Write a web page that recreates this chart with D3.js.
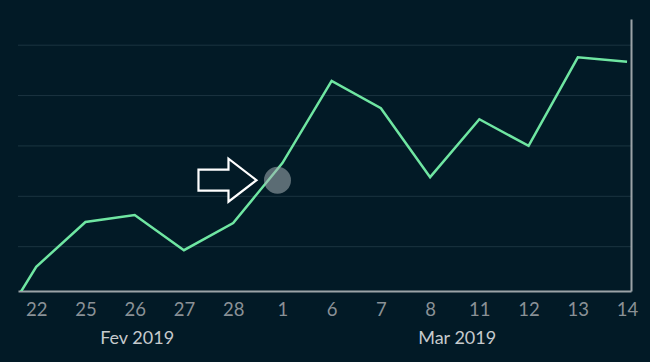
<!DOCTYPE html>
<html>
<head>
<meta charset="utf-8">
<script src="https://cdn.jsdelivr.net/npm/d3@7"></script>
<style>
  body { margin: 0; background: #021a26; }
  svg { display: block; font-family: Lato, "Open Sans", sans-serif; }
</style>
</head>
<body>
<div id="chart"></div>
<script>
// days on the axis; the first one sits outside the plot and gets clipped
var days = ["21", "22", "25", "26", "27", "28", "1", "6", "7", "8", "11", "12", "13", "14"];
var values = [-9.9, 6.0, 14.9, 16.3, 9.3, 14.7, 26.6, 42.9, 37.5, 23.8, 35.3, 30.0, 47.6, 46.7];
var gridValues = [10, 20, 30, 40, 50];
var monthLabels = ["Fev 2019", "Mar 2019"];
var monthAt = [3.05, 9.55];
// highlight marker (between 28 and 1)
var markerAt = 5.9;
var markerValue = 23.2;

var width = 650, height = 362;
var margin = {top: 19, right: 19, bottom: 71, left: 18};

var x = d3.scaleLinear()
    .domain([0.63, 13.08])
    .range([margin.left, width - margin.right]);

var y = d3.scaleLinear()
    .domain([1.2, 55.2])
    .range([height - margin.bottom, margin.top]);

var svg = d3.select("#chart")
    .append("svg")
    .attr("width", width)
    .attr("height", height);

svg.append("rect")
    .attr("width", width)
    .attr("height", height)
    .attr("fill", "#021a26");

svg.append("clipPath")
    .attr("id", "plot")
    .append("rect")
    .attr("x", margin.left)
    .attr("y", margin.top)
    .attr("width", width - margin.left - margin.right)
    .attr("height", height - margin.top - margin.bottom);

// horizontal grid
svg.append("g")
    .selectAll("line")
    .data(gridValues)
    .enter()
    .append("line")
    .attr("x1", margin.left)
    .attr("x2", width - margin.right)
    .attr("y1", function(d) { return y(d); })
    .attr("y2", function(d) { return y(d); })
    .attr("stroke", "#1b3440")
    .attr("stroke-width", 1);

// bottom axis with day labels
var xAxis = d3.axisBottom(x)
    .tickValues(d3.range(1, days.length))
    .tickFormat(function(i) { return days[i]; })
    .tickSize(0)
    .tickSizeOuter(0)
    .tickPadding(12);

var gx = svg.append("g")
    .attr("transform", "translate(0," + (height - margin.bottom) + ")")
    .call(xAxis);
gx.select(".domain").attr("stroke", "#9ba3a7").attr("stroke-width", 2);
gx.selectAll("text")
    .attr("fill", "#8a9196")
    .style("font-size", "18.5px")
    .style("font-family", "Lato, sans-serif");

// right axis line
var yAxis = d3.axisRight(y).tickValues([]).tickSizeOuter(0);
var gy = svg.append("g")
    .attr("transform", "translate(" + (width - margin.right) + ",0)")
    .call(yAxis);
gy.select(".domain").attr("stroke", "#9ba3a7").attr("stroke-width", 2);

// month labels
svg.append("g")
    .selectAll("text")
    .data(monthLabels)
    .enter()
    .append("text")
    .attr("x", function(d, i) { return x(monthAt[i]); })
    .attr("y", 344)
    .attr("text-anchor", "middle")
    .attr("fill", "#c6cacd")
    .style("font-size", "18px")
    .text(function(d) { return d; });

// the series
var line = d3.line()
    .x(function(d, i) { return x(i); })
    .y(function(d) { return y(d); });

svg.append("path")
    .datum(values)
    .attr("clip-path", "url(#plot)")
    .attr("d", line)
    .attr("fill", "none")
    .attr("stroke", "#6fe6a2")
    .attr("stroke-width", 2.5);

// marker circle
svg.append("circle")
    .attr("cx", x(markerAt))
    .attr("cy", y(markerValue))
    .attr("r", 13.5)
    .attr("fill", "#a5b0b5")
    .attr("fill-opacity", 0.55);

// outlined arrow pointing at the marker
var tipX = x(markerAt) - 21, tipY = y(markerValue);
var arrow = [
    [tipX - 58, tipY - 10.5],
    [tipX - 28, tipY - 10.5],
    [tipX - 28, tipY - 21.5],
    [tipX, tipY],
    [tipX - 28, tipY + 21.5],
    [tipX - 28, tipY + 10.5],
    [tipX - 58, tipY + 10.5]
];
svg.append("path")
    .attr("d", d3.line()(arrow) + "Z")
    .attr("fill", "#021a26")
    .attr("stroke", "#ffffff")
    .attr("stroke-width", 2.2)
    .attr("stroke-linejoin", "miter");
</script>
</body>
</html>
